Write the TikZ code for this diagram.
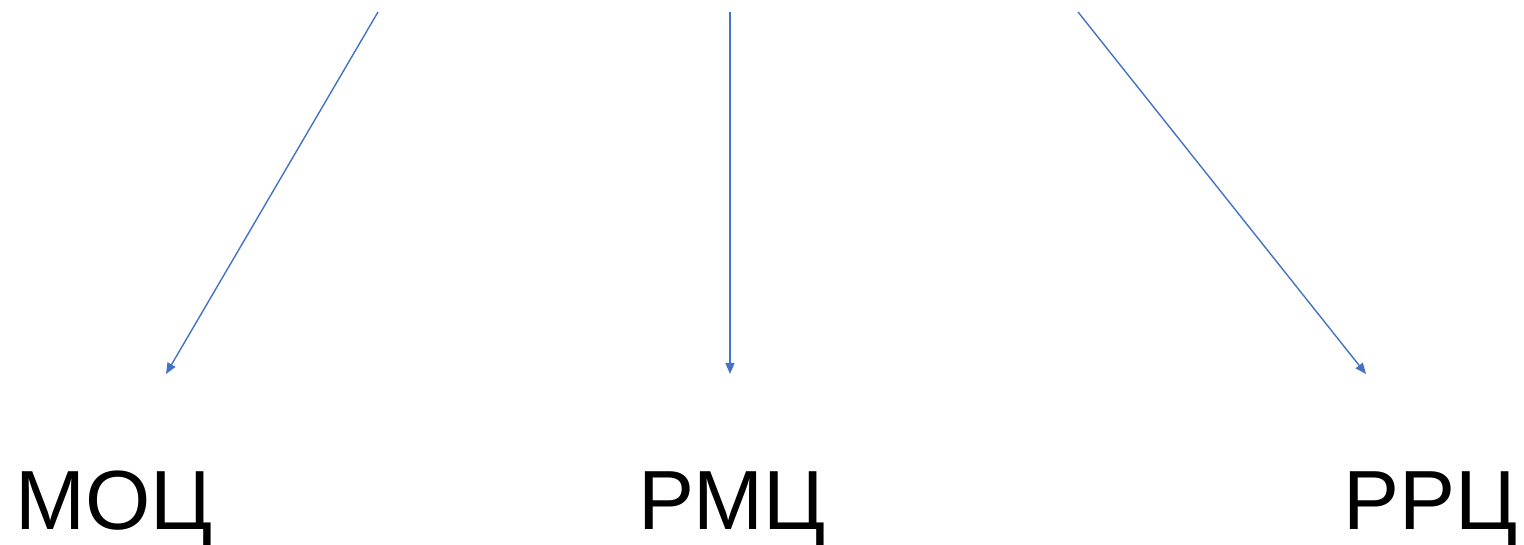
\documentclass[tikz,border=0pt]{standalone}
\usepackage{fontspec}
\setmainfont{Liberation Sans}
\usetikzlibrary{arrows.meta}
\definecolor{arrowblue}{RGB}{68,114,196}

\begin{document}
\begin{tikzpicture}[x=1pt, y=-1pt,
    link/.style={draw=arrowblue, line width=1.4pt, -{Triangle[length=11pt, width=9pt]}},
    label/.style={anchor=base, inner sep=0pt, font=\fontsize{84}{84}\selectfont}]
    \useasboundingbox (0,0) rectangle (1524,545);

    \coordinate (S1) at (378,12);
    \coordinate (S2) at (730,12);
    \coordinate (S3) at (1078,12);
    \coordinate (E1) at (166,374);
    \coordinate (E2) at (730,374);
    \coordinate (E3) at (1366,374);

    \draw[link] (S1) -- (E1);
    \draw[link] (S2) -- (E2);
    \draw[link] (S3) -- (E3);

    \node[label] (moc) at (114,529) {МОЦ};
    \node[label] (rmc) at (732,529) {РМЦ};
    \node[label] (rrc) at (1431,529) {РРЦ};
\end{tikzpicture}
\end{document}
